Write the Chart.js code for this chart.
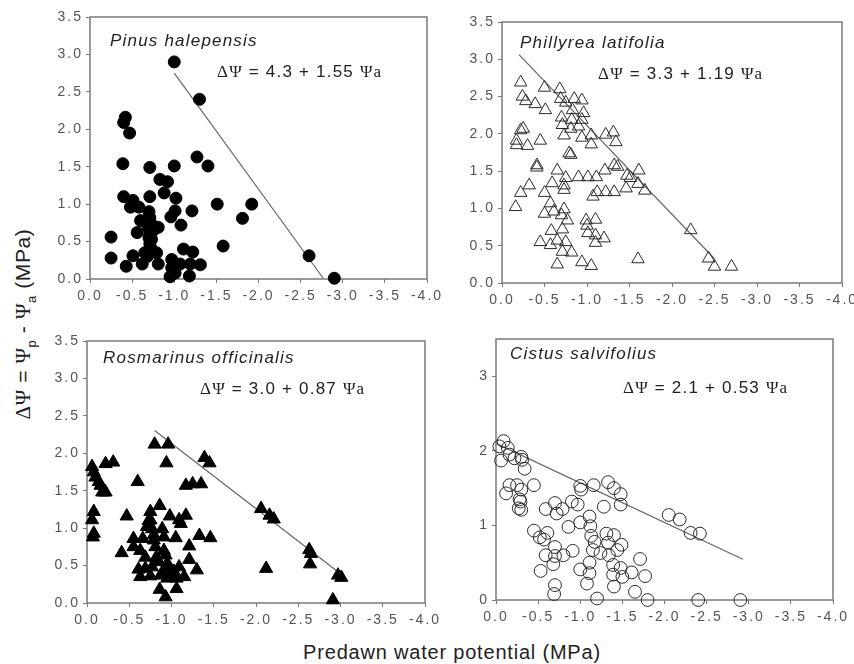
<!DOCTYPE html>
<html>
<head>
<meta charset="utf-8">
<script src="https://cdn.jsdelivr.net/npm/chart.js@4.4.0/dist/chart.umd.min.js"></script>
<style>
  body { margin: 0; background: #fff; }
  #wrap { position: relative; width: 854px; height: 664px; overflow: hidden;
          font-family: "Liberation Sans", Arial, sans-serif; color: #222; }
  #wrap canvas { position: absolute; }
  .species { position: absolute; font-style: italic; font-size: 17px; letter-spacing: 1.2px; white-space: nowrap; line-height: 1; transform: translateY(-50%); }
  .eq { position: absolute; font-size: 17px; letter-spacing: 1.2px; white-space: nowrap; line-height: 1; transform: translateY(-50%); }
  .g { font-family: "Liberation Serif", "DejaVu Serif", serif; }
  #ylab { position: absolute; left: 25px; top: 324px; font-size: 21px; letter-spacing: 0.6px; white-space: nowrap;
          transform: translate(-50%, -50%) rotate(-90deg); color: #222; }
  #ylab sub { font-size: 13px; }
  #xlab { position: absolute; left: 452px; top: 652px; font-size: 20px; letter-spacing: 0.8px; white-space: nowrap;
          transform: translate(-50%, -50%); color: #222; }
</style>
</head>
<body>
<div id="wrap">
  <div id="ylab"><span class="g">ΔΨ</span> = <span class="g">Ψ</span><sub>p</sub> - <span class="g">Ψ</span><sub>a</sub> (MPa)</div>
  <div id="xlab">Predawn water potential (MPa)</div>
</div>
<script>
// axis ticks
const xTickValues = [0, -0.5, -1.0, -1.5, -2.0, -2.5, -3.0, -3.5, -4.0];
const yTicksHalf = [0, 0.5, 1.0, 1.5, 2.0, 2.5, 3.0, 3.5];
const yTicksUnit = [0, 1, 2, 3];

// Pinus halepensis  [predawn, delta psi]
const pinusPoints = [
  [-1.0, 2.90], [-1.30, 2.40], [-0.42, 2.16], [-0.40, 2.09], [-0.47, 1.95], [-0.39, 1.54],
  [-0.71, 1.49], [-1.00, 1.51], [-1.27, 1.63], [-1.40, 1.51], [-0.83, 1.33], [-0.92, 1.30],
  [-0.88, 1.15], [-1.02, 1.08], [-0.40, 1.10], [-0.51, 1.05], [-0.71, 1.10], [-1.51, 1.00],
  [-1.92, 1.00], [-1.81, 0.81], [-1.21, 0.91], [-1.01, 0.91], [-0.96, 0.83], [-1.08, 0.72],
  [-0.48, 0.96], [-0.58, 0.96], [-0.60, 0.78], [-0.71, 0.82], [-0.81, 0.69], [-0.56, 0.62],
  [-0.71, 0.60], [-0.71, 0.47], [-0.79, 0.35], [-0.65, 0.35], [-0.25, 0.56], [-0.25, 0.28],
  [-0.51, 0.31], [-0.43, 0.17], [-0.62, 0.20], [-0.81, 0.20], [-1.58, 0.44], [-1.11, 0.40],
  [-1.22, 0.36], [-0.97, 0.26], [-1.07, 0.20], [-0.97, 0.15], [-1.01, 0.08], [-0.95, 0.03],
  [-1.19, 0.20], [-1.31, 0.19], [-1.18, 0.04], [-0.69, 0.69], [-0.73, 0.53], [-0.70, 0.90],
  [-0.72, 0.75], [-0.70, 0.55], [-0.73, 0.40], [-0.68, 0.30], [-0.75, 0.65],
  [-2.60, 0.31], [-2.90, 0.01]
];
// Phillyrea latifolia
const phillyreaPoints = [
  [-0.22, 2.69], [-0.50, 2.62], [-0.68, 2.60], [-0.24, 2.50], [-0.28, 2.44], [-0.39, 2.40],
  [-0.51, 2.32], [-0.69, 2.47], [-0.85, 2.47], [-0.94, 2.45], [-0.75, 2.42], [-0.83, 2.32],
  [-0.96, 2.28], [-0.70, 2.22], [-0.82, 2.19], [-0.94, 2.19], [-0.71, 2.12], [-0.90, 2.10],
  [-0.81, 2.07], [-1.05, 1.98], [-0.94, 1.95], [-0.73, 1.98], [-1.22, 1.99], [-1.31, 2.02],
  [-1.34, 1.89], [-1.05, 1.86], [-0.25, 2.07], [-0.22, 2.05], [-0.17, 1.91], [-0.17, 1.85],
  [-0.30, 1.84], [-0.45, 1.91], [-0.79, 1.74], [-0.81, 1.72], [-0.41, 1.58], [-0.41, 1.55],
  [-0.65, 1.51], [-0.75, 1.41], [-0.90, 1.42], [-1.01, 1.42], [-1.11, 1.42], [-1.21, 1.51],
  [-1.32, 1.58], [-1.36, 1.56], [-1.47, 1.44], [-1.61, 1.51], [-1.51, 1.41], [-0.59, 1.34],
  [-0.73, 1.31], [-0.73, 1.25], [-0.32, 1.31], [-0.50, 1.21], [-0.22, 1.21], [-1.07, 1.16],
  [-1.12, 1.22], [-1.22, 1.22], [-1.32, 1.22], [-1.46, 1.27], [-1.60, 1.33], [-1.68, 1.24],
  [-0.16, 1.02], [-0.57, 1.07], [-0.61, 0.96], [-0.73, 0.99], [-0.50, 0.93], [-0.77, 0.84],
  [-0.70, 0.91], [-0.99, 0.84], [-1.10, 0.85], [-1.00, 0.77], [-0.58, 0.70], [-0.71, 0.72],
  [-1.01, 0.67], [-1.10, 0.64], [-1.20, 0.60], [-0.45, 0.55], [-0.65, 0.57], [-0.75, 0.55],
  [-0.57, 0.51], [-1.10, 0.54], [-0.71, 0.42], [-0.82, 0.41], [-0.65, 0.25], [-0.94, 0.28],
  [-1.05, 0.23], [-1.60, 0.32], [-2.22, 0.71], [-2.43, 0.33], [-2.50, 0.22], [-2.70, 0.22]
];
// Rosmarinus officinalis
const rosmarinusPoints = [
  [-0.80, 2.12], [-0.96, 2.12], [-0.94, 1.87], [-1.39, 1.94], [-1.45, 1.87], [-0.22, 1.86],
  [-0.31, 1.88], [-0.06, 1.82], [-0.08, 1.75], [-0.10, 1.68], [-0.14, 1.62], [-0.16, 1.57],
  [-0.18, 1.48], [-0.22, 1.48], [-0.60, 1.62], [-1.17, 1.57], [-1.25, 1.59], [-1.35, 1.59],
  [-2.06, 1.26], [-2.16, 1.17], [-2.21, 1.12], [-0.08, 1.22], [-0.06, 1.11], [-0.08, 0.93],
  [-0.07, 0.88], [-0.47, 1.16], [-0.75, 1.22], [-0.86, 1.30], [-0.73, 1.10], [-0.98, 1.16],
  [-1.09, 1.11], [-1.17, 1.17], [-1.11, 1.06], [-0.77, 0.99], [-0.89, 0.99], [-0.55, 0.86],
  [-0.66, 0.86], [-0.79, 0.84], [-0.91, 0.88], [-1.05, 0.87], [-1.33, 0.90], [-1.46, 0.87],
  [-0.55, 0.75], [-0.63, 0.70], [-0.81, 0.75], [-0.91, 0.70], [-1.21, 0.76], [-0.41, 0.67],
  [-2.63, 0.71], [-2.65, 0.66], [-0.69, 0.61], [-0.82, 0.61], [-0.93, 0.64], [-1.21, 0.58],
  [-0.61, 0.45], [-0.69, 0.46], [-0.77, 0.48], [-0.97, 0.48], [-1.09, 0.48], [-1.30, 0.44],
  [-2.12, 0.46], [-2.64, 0.52], [-0.63, 0.35], [-0.75, 0.36], [-0.87, 0.37], [-0.97, 0.38],
  [-1.06, 0.33], [-1.15, 0.35], [-2.97, 0.37], [-3.01, 0.34], [-0.86, 0.18], [-1.06, 0.19],
  [-0.93, 0.08], [-2.91, 0.04], [-0.75, 1.11], [-0.71, 1.02], [-0.79, 0.91], [-0.95, 0.53],
  [-0.89, 0.39], [-1.03, 0.42], [-0.95, 0.33], [-0.85, 0.55]
];
// Cistus salvifolius
const cistusPoints = [
  [-0.04, 2.06], [-0.09, 2.13], [-0.06, 1.87], [-0.14, 2.04], [-0.16, 1.95], [-0.22, 1.90],
  [-0.30, 1.92], [-0.31, 1.88], [-0.34, 1.76], [-0.16, 1.54], [-0.25, 1.54], [-0.30, 1.48],
  [-0.45, 1.54], [-0.12, 1.43], [-0.28, 1.35], [-0.29, 1.32], [-0.27, 1.23], [-0.30, 1.21],
  [-0.59, 1.22], [-0.70, 1.30], [-0.72, 1.16], [-0.79, 1.22], [-0.90, 1.32], [-0.97, 1.28],
  [-1.01, 1.48], [-1.00, 1.53], [-1.16, 1.54], [-1.28, 1.25], [-1.33, 1.58], [-1.40, 1.50],
  [-1.48, 1.42], [-1.48, 1.28], [-2.05, 1.14], [-2.18, 1.08], [-2.31, 0.90], [-2.42, 0.89],
  [-0.45, 0.93], [-0.52, 0.84], [-0.61, 0.90], [-0.57, 0.81], [-0.86, 0.98], [-1.00, 1.04],
  [-1.11, 1.12], [-1.12, 0.99], [-1.13, 0.86], [-1.17, 0.78], [-1.15, 0.67], [-1.31, 0.89],
  [-1.33, 0.77], [-1.40, 0.87], [-1.34, 0.60], [-1.44, 0.67], [-1.49, 0.74], [-0.59, 0.60],
  [-0.70, 0.71], [-0.70, 0.59], [-0.80, 0.60], [-0.91, 0.66], [-0.68, 0.48], [-0.53, 0.39],
  [-1.00, 0.41], [-1.11, 0.50], [-1.11, 0.36], [-1.08, 0.22], [-1.24, 0.63], [-1.39, 0.47],
  [-1.39, 0.34], [-1.40, 0.18], [-1.50, 0.31], [-1.48, 0.43], [-1.61, 0.37], [-1.71, 0.55],
  [-1.77, 0.32], [-1.65, 0.11], [-0.70, 0.20], [-0.69, 0.08], [-1.20, 0.02], [-1.80, 0.00],
  [-2.40, 0.00], [-2.90, 0.00]
];

// regression fits  dPsi = a + b * Psi_a, drawn over the listed x range
const fitIntercepts = [4.3, 3.3, 3.0, 2.1];
const fitSlopes = [1.55, 1.19, 0.87, 0.53];
const fitRanges = [[-1.0, -2.77], [-0.2, -2.5], [-0.8, -2.95], [0.0, -2.93]];

const speciesNames = ['Pinus halepensis', 'Phillyrea latifolia', 'Rosmarinus officinalis', 'Cistus salvifolius'];

// plot boxes on the page (left, top, right, bottom)
const panels = [
  { box: [90, 17, 427, 279], points: pinusPoints, yTicks: yTicksHalf, style: 'circle', filled: true, radius: 6,
    name: [110, 40], eq: [217, 71] },
  { box: [502, 22, 842, 283], points: phillyreaPoints, yTicks: yTicksHalf, style: 'triangle', filled: false, radius: 7.2,
    name: [520, 42], eq: [598, 73] },
  { box: [87, 341, 425, 603], points: rosmarinusPoints, yTicks: yTicksHalf, style: 'triangle', filled: true, radius: 7.6,
    name: [103, 357], eq: [200, 388] },
  { box: [496, 339, 833, 600], points: cistusPoints, yTicks: yTicksUnit, style: 'circle', filled: false, radius: 6.4,
    name: [510, 353], eq: [623, 387] }
];

const AXIS_W = 42, PAD_TOP = 12, PAD_RIGHT = 20, AXIS_H = 30;
const TICK_FONT = { family: '"Liberation Sans", Arial, sans-serif', size: 14 };
const wrap = document.getElementById('wrap');

// wide tick numbers, and a box round the plot area drawn under the points
const framePlugin = {
  id: 'frame',
  beforeDraw(chart) {
    chart.ctx.letterSpacing = '2px';
  },
  beforeDatasetsDraw(chart) {
    const a = chart.chartArea, ctx = chart.ctx;
    ctx.save();
    ctx.strokeStyle = '#7a7a7a';
    ctx.lineWidth = 1.5;
    ctx.strokeRect(a.left, a.top, a.right - a.left, a.bottom - a.top);
    ctx.restore();
  }
};

panels.forEach(function (p, i) {
  const [l, t, r, b] = p.box;
  const canvas = document.createElement('canvas');
  const w = r - l + AXIS_W + PAD_RIGHT;
  const h = b - t + PAD_TOP + AXIS_H;
  canvas.width = w;
  canvas.height = h;
  canvas.style.left = (l - AXIS_W) + 'px';
  canvas.style.top = (t - PAD_TOP) + 'px';
  canvas.style.width = w + 'px';
  canvas.style.height = h + 'px';
  wrap.appendChild(canvas);

  const a = fitIntercepts[i], s = fitSlopes[i];
  const fitLine = fitRanges[i].map(x => ({ x: x, y: a + s * x }));

  new Chart(canvas.getContext('2d'), {
    type: 'scatter',
    data: {
      datasets: [
        {
          data: p.points.map(d => ({ x: d[0], y: d[1] })),
          pointStyle: p.style,
          pointRadius: p.radius,
          backgroundColor: p.filled ? '#000' : 'rgba(0,0,0,0)',
          borderColor: p.filled ? '#000' : '#2a2a2a',
          borderWidth: 1,
          clip: false,
          order: 0
        },
        {
          data: fitLine,
          showLine: true,
          pointRadius: 0,
          borderColor: '#666',
          borderWidth: 1.2,
          clip: false,
          order: 1
        }
      ]
    },
    options: {
      responsive: false,
      animation: false,
      events: [],
      layout: { padding: { top: PAD_TOP, right: PAD_RIGHT, left: 0, bottom: 0 } },
      plugins: { legend: { display: false }, tooltip: { enabled: false } },
      scales: {
        x: {
          type: 'linear',
          min: -4, max: 0, reverse: true,
          afterBuildTicks: sc => { sc.ticks = xTickValues.map(v => ({ value: v })); },
          afterFit: sc => { sc.height = AXIS_H; },
          ticks: {
            color: '#555', padding: 5, maxRotation: 0, font: TICK_FONT,
            callback: v => v.toFixed(1)
          },
          grid: { drawOnChartArea: false, drawTicks: true, tickLength: 4, color: '#7a7a7a' },
          border: { display: false }
        },
        y: {
          type: 'linear',
          min: 0, max: 3.5,
          afterBuildTicks: sc => { sc.ticks = p.yTicks.map(v => ({ value: v })); },
          afterFit: sc => { sc.width = AXIS_W; },
          ticks: {
            color: '#555', padding: 3, font: TICK_FONT,
            callback: v => (p.yTicks === yTicksUnit ? String(v) : v.toFixed(1))
          },
          grid: { drawOnChartArea: false, drawTicks: true, tickLength: 4, color: '#7a7a7a' },
          border: { display: false }
        }
      }
    },
    plugins: [framePlugin]
  });

  const name = document.createElement('div');
  name.className = 'species';
  name.style.left = p.name[0] + 'px';
  name.style.top = p.name[1] + 'px';
  name.textContent = speciesNames[i];
  wrap.appendChild(name);

  const eq = document.createElement('div');
  eq.className = 'eq';
  eq.style.left = p.eq[0] + 'px';
  eq.style.top = p.eq[1] + 'px';
  eq.innerHTML = '<span class="g">ΔΨ</span> = ' + a.toFixed(1) + ' + ' + s.toFixed(2) + ' <span class="g">Ψa</span>';
  wrap.appendChild(eq);
});
</script>
</body>
</html>
